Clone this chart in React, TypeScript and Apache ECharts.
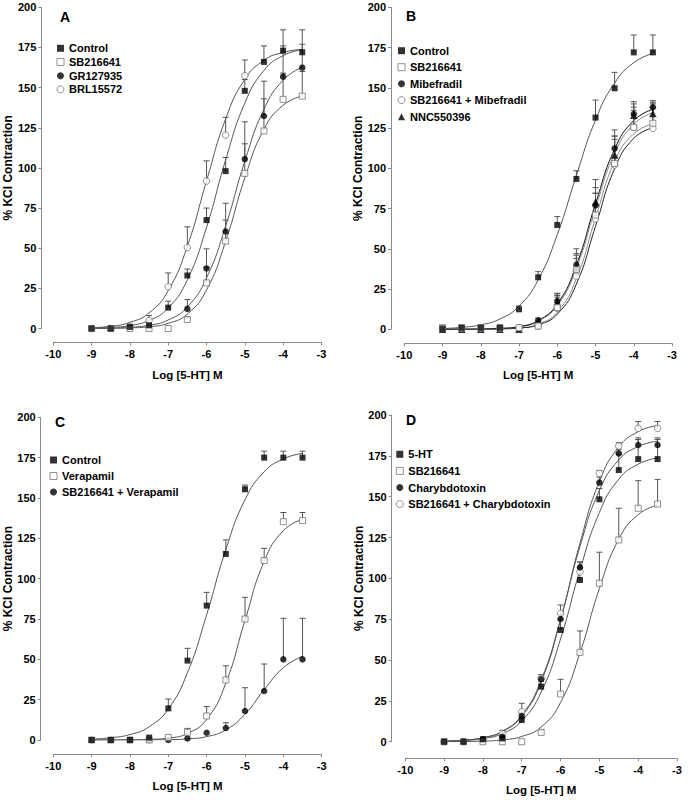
import React, { useEffect, useRef } from 'react';
import * as echarts from 'echarts';

// ---------- data ----------
const doses = [-9, -8.5, -8, -7.5, -7, -6.5, -6, -5.5, -5, -4.5, -4, -3.5];

// Panel A
const A_control = [0, 0, 1, 2, 13, 33, 67.5, 98, 148, 166, 173, 172];
const A_controlErr = [null, null, null, null, 17, 37, 75, 106.5, 155, 176, 186, 186];
const A_controlFit = [0.3, 0.7, 1.9, 5.0, 12.8, 30.4, 62.9, 105, 140.3, 160.7, 169.9, 173.7];
const A_sb = [0, 0, 0, 0, 0, 5.6, 28.4, 54.4, 96.6, 123, 142.7, 144.7];
const A_sbErr = [null, null, null, null, null, 7, 38, 67.5, 115, 143, 159, 160];
const A_sbFit = [0.04, 0.12, 0.36, 1.1, 3.2, 9.0, 24, 54.3, 93.7, 124, 139, 144.8];
const A_gr = [null, null, null, null, null, 12.2, 37.4, 60.4, 105.5, 132.3, 156.8, 162.4];
const A_grErr = [null, null, null, null, null, 18, 49.6, 78, 128.7, 154, 176, 177];
const A_grFit = [0.1, 0.3, 0.8, 2.0, 5.3, 13.4, 31.5, 63.9, 104.1, 136.5, 154.6, 162.7];
const A_brl = [0, 0, 1, 5, 26, 50.4, 91.8, 120.4, 157.4, null, null, null];
const A_brlErr = [null, null, null, 8, 34.6, 63.3, 104.4, 131.5, 167.2, null, null, null];
const A_brlFit = [0.5, 1.4, 3.8, 9.7, 23.6, 51.3, 91.8, 130.5, 155.1, 167, 171.9, 173.8];

// Panel B
const B_control = [0.5, 1, 1, 1, 12.4, 32.3, 64.8, 93.4, 131.5, 149.7, 172, 172];
const B_controlErr = [null, null, null, null, 14.5, 35.8, 70, 98.5, 142.4, 159.6, 182.8, 182.8];
const B_controlFit = [0.5, 1.2, 2.8, 6.4, 14.4, 30.7, 58.8, 95.6, 130, 153, 165.6, 171.4];
const B_sb = [1, 1, 1, 1, 1, 2, 13.5, 37, 71, 103, 125.5, 128];
const B_sbErr = [null, null, null, null, null, null, 22, 47, 84.5, 120, 138, 140];
const B_sbFit = [0, 0.02, 0.07, 0.26, 0.9, 3.2, 10.7, 31.5, 69.1, 104.2, 121.5, 127.5];
const B_mib = [0, 0, 0, 0, 0.6, 5.4, 17.6, 40, 77, 112.4, 133.7, 137.9];
const B_mibErr = [null, null, null, null, null, 7, 22.4, 50, 93, 123.8, 141.4, 142];
const B_mibFit = [0, 0.06, 0.18, 0.55, 1.7, 5.4, 15.7, 39.9, 78, 111.9, 129.7, 136.6];
const B_sbMib = [0.5, 0.5, 0.5, 0.5, 1, 2, 13, 33, 68.5, 102, 125.5, 124.8];
const B_sbMibErr = [null, null, null, null, null, null, 20, 44, 84.5, 118, 136, 138];
const B_sbMibFit = [0, 0.02, 0.06, 0.23, 0.8, 2.8, 9.4, 28.1, 64, 99.8, 118.6, 125.2];
const B_nnc = [0, 0, 0, 0, 0, 5, 17, 38, 79, 108.3, 133, 134];
const B_nncErr = [null, null, null, null, null, null, 21, 46, 88, 120, 140, 141];
const B_nncFit = [0.02, 0.05, 0.17, 0.52, 1.6, 5.1, 14.8, 38, 75.3, 109.3, 127.4, 134.5];

// Panel C
const C_control = [0, 0, 0, 1.5, 19.6, 49.2, 83.3, 115.3, 155.4, 175, 175, 175];
const C_controlErr = [null, null, null, null, 25.4, 56.8, 91.5, 124, 158, 179, 179, 179];
const C_controlFit = [0.5, 1.4, 3.4, 8.2, 19.3, 41.8, 77.7, 118, 148.9, 166.2, 174.2, 177.7];
const C_ver = [0, 0, 0, 0, 1.6, 4.8, 14.9, 37.2, 75, 111.2, 135.3, 136];
const C_verErr = [null, null, null, null, null, 7.2, 20.7, 46, 88.4, 118.8, 141, 141];
const C_verFit = [0.01, 0.03, 0.11, 0.38, 1.2, 4.1, 12.8, 35.3, 74.2, 110.7, 129.8, 136.8];
const C_sbVer = [0, 0, 0, 0, 0, 1, 4.5, 7.4, 18, 30.4, 50, 50];
const C_sbVerErr = [null, null, null, null, null, null, null, 10.7, 32.4, 47.1, 75.4, 75.4];
const C_sbVerFit = [0, 0, 0.02, 0.07, 0.22, 0.7, 2.1, 6.3, 16, 31.2, 44.8, 51.9];

// Panel D
const D_5ht = [0, 0, 1.5, 2, 13.3, 33.7, 68.4, 99, 148.4, 166.3, 173, 173];
const D_5htErr = [null, null, null, null, 17, 37, 75, 106.5, 155, 176, 186, 186];
const D_5htFit = [0.3, 0.7, 1.9, 5.0, 12.8, 30.4, 62.9, 105, 140.3, 160.7, 169.9, 173.7];
const D_sb = [0, 0, 0, 0, 0, 5.7, 29.2, 54.7, 97, 123.5, 142.9, 145.5];
const D_sbErr = [null, null, null, null, null, 7, 38.2, 67.8, 116, 142.9, 159.8, 160.6];
const D_sbFit = [0.04, 0.12, 0.36, 1.1, 3.2, 9.0, 24, 54.3, 93.7, 124, 139, 144.8];
const D_chtx = [0, 0, 1.5, 3, 15.7, 38.2, 75.1, 106.7, 158.6, 176.5, 181.6, 181.6];
const D_chtxErr = [null, null, null, null, 18, 40, 78, 110, 162, 179, 185, 185];
const D_chtxFit = [0.35, 0.94, 2.5, 6.4, 16.2, 37.7, 75, 119.5, 153.8, 172.5, 180.7, 184];
const D_sbChtx = [0, 0, 1, 5, 18.4, 38.8, 78.6, 104, 164.3, 181, 191.8, 191.8];
const D_sbChtxErr = [null, null, null, 7, 23.5, 41, 83.7, 110, 166, 183, 196, 196];
const D_sbChtxFit = [0.34, 0.9, 2.4, 6.2, 15.6, 36.7, 74.5, 121.5, 159.3, 180.4, 189.8, 193.6];

// ---------- styling / layout ----------
const FONT = '"Liberation Sans", Arial, Helvetica, sans-serif';
const AXIS_GRAY = '#8a8a8a';
const OPEN_GRAY = '#767676';
const FIT_GRAY = '#555555';
const ERR_GRAY = '#555555';

type Sym = 'rect' | 'circle' | 'triangle';
interface Group {
  name: string;
  values: (number | null)[];
  errs: (number | null)[];
  fit: number[];
  symbol: Sym;
  filled: boolean;
  fitColor?: string;
}
interface Panel {
  letter: string;
  grid: { left: number; top: number; width: number; height: number };
  yOffset: number;
  xOffset: number;
  letterPos: { left: number; top: number };
  legend: { left: number; top: number; gap: number };
  groups: Group[];
}

const panels: Panel[] = [
  {
    letter: 'A',
    grid: { left: 53.3, top: 7.3, width: 268.1, height: 321.2 },
    yOffset: 12,
    xOffset: 14,
    letterPos: { left: 60, top: 9.5 },
    legend: { left: 56.5, top: 42.3, gap: 1.7 },
    groups: [
      { name: 'Control', values: A_control, errs: A_controlErr, fit: A_controlFit, symbol: 'rect', filled: true },
      { name: 'SB216641', values: A_sb, errs: A_sbErr, fit: A_sbFit, symbol: 'rect', filled: false },
      { name: 'GR127935', values: A_gr, errs: A_grErr, fit: A_grFit, symbol: 'circle', filled: true },
      { name: 'BRL15572', values: A_brl, errs: A_brlErr, fit: A_brlFit, symbol: 'circle', filled: false },
    ],
  },
  {
    letter: 'B',
    grid: { left: 404.3, top: 7.3, width: 267.7, height: 322 },
    yOffset: 13.3,
    xOffset: 14,
    letterPos: { left: 406, top: 8.5 },
    legend: { left: 397.5, top: 44.7, gap: 4.5 },
    groups: [
      { name: 'Control', values: B_control, errs: B_controlErr, fit: B_controlFit, symbol: 'rect', filled: true },
      { name: 'SB216641', values: B_sb, errs: B_sbErr, fit: B_sbFit, symbol: 'rect', filled: false, fitColor: '#888888' },
      { name: 'SB216641 + Mibefradil', values: B_sbMib, errs: B_sbMibErr, fit: B_sbMibFit, symbol: 'circle', filled: false, fitColor: '#222222' },
      { name: 'NNC550396', values: B_nnc, errs: B_nncErr, fit: B_nncFit, symbol: 'triangle', filled: true, fitColor: '#888888' },
      { name: 'Mibefradil', values: B_mib, errs: B_mibErr, fit: B_mibFit, symbol: 'circle', filled: true, fitColor: '#111111' },
    ],
  },
  {
    letter: 'C',
    grid: { left: 53.3, top: 417.3, width: 268.4, height: 322.7 },
    yOffset: 12.6,
    xOffset: 14,
    letterPos: { left: 55, top: 414.5 },
    legend: { left: 49.5, top: 454, gap: 4 },
    groups: [
      { name: 'Control', values: C_control, errs: C_controlErr, fit: C_controlFit, symbol: 'rect', filled: true },
      { name: 'Verapamil', values: C_ver, errs: C_verErr, fit: C_verFit, symbol: 'rect', filled: false },
      { name: 'SB216641 + Verapamil', values: C_sbVer, errs: C_sbVerErr, fit: C_sbVerFit, symbol: 'circle', filled: true },
    ],
  },
  {
    letter: 'D',
    grid: { left: 405.3, top: 415, width: 271.7, height: 326.7 },
    yOffset: 13.6,
    xOffset: 16.6,
    letterPos: { left: 406, top: 413 },
    legend: { left: 395.8, top: 448.3, gap: 4.6 },
    groups: [
      { name: '5-HT', values: D_5ht, errs: D_5htErr, fit: D_5htFit, symbol: 'rect', filled: true },
      { name: 'SB216641', values: D_sb, errs: D_sbErr, fit: D_sbFit, symbol: 'rect', filled: false },
      { name: 'Charybdotoxin', values: D_chtx, errs: D_chtxErr, fit: D_chtxFit, symbol: 'circle', filled: true },
      { name: 'SB216641 + Charybdotoxin', values: D_sbChtx, errs: D_sbChtxErr, fit: D_sbChtxFit, symbol: 'circle', filled: false },
    ],
  },
];

const legendOrder: Record<string, string[]> = {
  A: ['Control', 'SB216641', 'GR127935', 'BRL15572'],
  B: ['Control', 'SB216641', 'Mibefradil', 'SB216641 + Mibefradil', 'NNC550396'],
  C: ['Control', 'Verapamil', 'SB216641 + Verapamil'],
  D: ['5-HT', 'SB216641', 'Charybdotoxin', 'SB216641 + Charybdotoxin'],
};

function symStyle(filled: boolean) {
  return filled
    ? { color: '#000000', borderColor: '#000000', borderWidth: 0 }
    : { color: '#ffffff', borderColor: OPEN_GRAY, borderWidth: 1 };
}
function symSize(s: Sym) {
  return s === 'rect' ? 6 : s === 'circle' ? 6.5 : 7.5;
}

const errRender = (params: any, api: any) => {
  const x = api.value(0);
  const y = api.value(1);
  const t = api.value(2);
  const p0 = api.coord([x, y]);
  const p1 = api.coord([x, t]);
  const st = { stroke: ERR_GRAY, lineWidth: 1 };
  return {
    type: 'group',
    children: [
      { type: 'line', shape: { x1: p0[0], y1: p0[1], x2: p1[0], y2: p1[1] }, style: st },
      { type: 'line', shape: { x1: p1[0] - 3, y1: p1[1], x2: p1[0] + 3, y2: p1[1] }, style: st },
    ],
  };
};

function buildOption() {
  const textBase = { fontFamily: FONT, fontWeight: 'bold' as const, color: '#000' };
  const grids: any[] = [];
  const xAxes: any[] = [];
  const yAxes: any[] = [];
  const series: any[] = [];
  const legends: any[] = [];
  const titles: any[] = [];

  panels.forEach((p, i) => {
    grids.push({ ...p.grid, containLabel: false, outerBoundsMode: 'none' });
    xAxes.push({
      type: 'value',
      gridIndex: i,
      min: -10,
      max: -3,
      interval: 1,
      offset: p.xOffset,
      axisLine: { show: true, onZero: false, lineStyle: { color: AXIS_GRAY, width: 1 } },
      axisTick: { show: true, length: 3, lineStyle: { color: AXIS_GRAY } },
      axisLabel: { ...textBase, fontSize: 11, margin: 6 },
      splitLine: { show: false },
      name: 'Log [5-HT] M',
      nameLocation: 'middle',
      nameGap: 26,
      nameMoveOverlap: false,
      nameTextStyle: { ...textBase, fontSize: 11.5 },
    });
    yAxes.push({
      type: 'value',
      gridIndex: i,
      min: 0,
      max: 200,
      interval: 25,
      offset: p.yOffset,
      axisLine: { show: true, lineStyle: { color: AXIS_GRAY, width: 1 } },
      axisTick: { show: true, length: 3, lineStyle: { color: AXIS_GRAY } },
      axisLabel: { ...textBase, fontSize: 11, margin: 5 },
      splitLine: { show: false },
      name: '% KCl Contraction',
      nameLocation: 'middle',
      nameGap: 27,
      nameRotate: 90,
      nameMoveOverlap: false,
      nameTextStyle: { ...textBase, fontSize: 12 },
    });
    titles.push({
      text: p.letter,
      left: p.letterPos.left,
      top: p.letterPos.top,
      padding: 0,
      textStyle: { ...textBase, fontSize: 14 },
    });

    // fits
    p.groups.forEach((g, j) => {
      series.push({
        type: 'line',
        name: `${p.letter}-fit-${j}`,
        xAxisIndex: i,
        yAxisIndex: i,
        data: doses.map((d, k) => [d, g.fit[k]]),
        symbol: 'none',
        showSymbol: false,
        smooth: 0.5,
        lineStyle: { color: g.fitColor ?? FIT_GRAY, width: 1 },
        z: 2,
        silent: true,
      });
    });
    // error bars
    p.groups.forEach((g, j) => {
      const data = doses
        .map((d, k) => (g.values[k] != null && g.errs[k] != null ? [d, g.values[k], g.errs[k]] : null))
        .filter((v) => v !== null);
      series.push({
        type: 'custom',
        name: `${p.letter}-err-${j}`,
        xAxisIndex: i,
        yAxisIndex: i,
        data,
        renderItem: errRender,
        z: 3,
        silent: true,
      });
    });
    // points (drawn in reverse so that the first group is on top)
    [...p.groups].reverse().forEach((g) => {
      const data = doses
        .map((d, k) => (g.values[k] != null ? [d, g.values[k]] : null))
        .filter((v) => v !== null);
      series.push({
        type: 'scatter',
        name: g.name,
        xAxisIndex: i,
        yAxisIndex: i,
        data,
        symbol: g.symbol,
        symbolSize: symSize(g.symbol),
        itemStyle: symStyle(g.filled),
        z: 4,
        silent: true,
      });
    });

    const byName: Record<string, Group> = {};
    p.groups.forEach((g) => (byName[g.name] = g));
    legends.push({
      orient: 'vertical',
      left: p.legend.left,
      top: p.legend.top,
      itemGap: p.legend.gap,
      itemWidth: 7,
      itemHeight: 7,
      padding: 0,
      selectedMode: false,
      textStyle: { ...textBase, fontSize: 11, lineHeight: 12 },
      data: legendOrder[p.letter].map((n) => ({
        name: n,
        icon: byName[n].symbol,
        itemStyle: symStyle(byName[n].filled),
      })),
    });
  });

  return {
    animation: false,
    backgroundColor: '#ffffff',
    title: titles,
    legend: legends,
    grid: grids,
    xAxis: xAxes,
    yAxis: yAxes,
    series,
  };
}

export default function App() {
  const ref = useRef<HTMLDivElement>(null);
  useEffect(() => {
    if (!ref.current) return;
    const chart = echarts.init(ref.current, undefined, { renderer: 'svg' });
    chart.setOption(buildOption() as any);
    return () => chart.dispose();
  }, []);
  return (
    <div
      ref={ref}
      style={{ position: 'fixed', left: 0, top: 0, width: 693, height: 800, background: '#fff' }}
    />
  );
}
